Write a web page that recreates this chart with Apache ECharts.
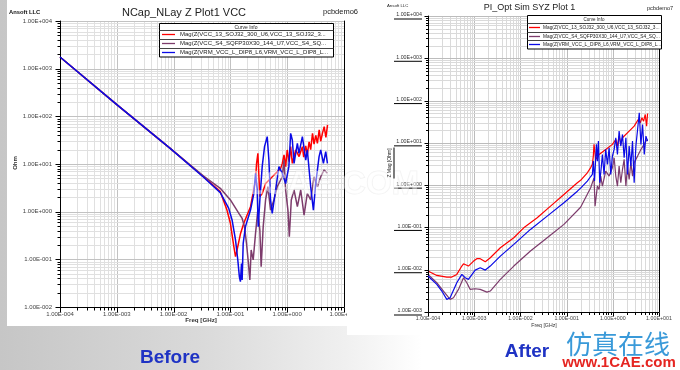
<!DOCTYPE html>
<html><head><meta charset="utf-8">
<script src="https://cdn.jsdelivr.net/npm/echarts@6/dist/echarts.min.js"></script>
<style>html,body{margin:0;padding:0;background:#fff}#c{width:680px;height:370px}</style>
</head><body><div id="c"></div>
<script>
const FONT = '"Liberation Sans", Arial, sans-serif';

// ---------- tick labels ----------
const leftXTickLabels = ['1.00E-004','1.00E-003','1.00E-002','1.00E-001','1.00E+000','1.00E+001'];
const leftYTickLabels = ['1.00E-002','1.00E-001','1.00E+000','1.00E+001','1.00E+002','1.00E+003','1.00E+004'];
const rightXTickLabels = ['1.00E-004','1.00E-003','1.00E-002','1.00E-001','1.00E+000','1.00E+001'];
const rightYTickLabels = ['1.00E-003','1.00E-002','1.00E-001','1.00E+000','1.00E+001','1.00E+002','1.00E+003','1.00E+004'];

const curveNames = [
  'Mag(Z(VCC_13_SOJ32_300_U6,VCC_13_SOJ32_3...',
  'Mag(Z(VCC_S4_SQFP30X30_144_U7,VCC_S4_SQ...',
  'Mag(Z(VRM_VCC_L_DIP8_L6,VRM_VCC_L_DIP8_L...'
];

// ---------- left chart (Before) : Freq [GHz] vs Ohm ----------
const leftRedFreq = [0.0001,0.001,0.0087,0.0337,0.0664,0.087,0.100,0.115,0.123,0.131,0.151,0.172,0.226,0.277,0.289,0.305,0.318,0.331,0.363,0.417,0.585,0.767,0.820,0.879,0.940,1.00,1.08,1.15,1.23,1.41,1.62,1.85,1.95,2.12,2.26,2.43,2.59,2.79,2.97,3.19,3.40,3.66,3.89,4.19,4.48,4.80,5.13];
const leftRedZ    = [1760,176,21.3,5.4,2.63,1.08,0.57,0.185,0.114,0.157,0.35,0.57,1.27,4.6,10.3,16.7,5.4,2.07,2.4,3.9,5.9,8.1,10.3,15.5,8.8,19.7,11.2,23.1,10.3,19.7,14.3,23.1,14,24,16,29,20,44,26,40,27,52,30,45,61,36,66];

const leftPurpleFreq = [0.0001,0.001,0.0087,0.0337,0.0664,0.100,0.141,0.161,0.177,0.192,0.205,0.220,0.232,0.252,0.277,0.304,0.330,0.348,0.378,0.416,0.457,0.509,0.584,0.668,0.819,0.877,0.938,1.03,1.09,1.18,1.32,1.51,1.73,1.98,2.26,2.59,2.97,3.40,3.89,4.47,5.11];
const leftPurpleZ    = [1760,176,21.3,5.6,3.09,1.76,0.92,0.72,0.485,0.217,0.097,0.037,0.157,0.097,0.35,1.08,0.41,0.070,0.485,1.76,3.35,1.08,1.76,3.35,5.4,12.1,2.85,1.08,0.30,1.76,2.85,1.27,2.85,0.85,2.43,1.76,5.4,3.35,5.4,7.5,6.4];

const leftBlueFreq = [0.0001,0.001,0.0087,0.0337,0.0664,0.0935,0.107,0.123,0.135,0.144,0.150,0.157,0.161,0.168,0.184,0.226,0.259,0.277,0.296,0.309,0.330,0.363,0.399,0.445,0.476,0.509,0.545,0.625,0.715,0.819,0.938,1.07,1.15,1.23,1.32,1.51,1.61,1.85,2.12,2.26,2.59,2.89,3.18,3.64,3.89,4.34,4.77,5.11];
const leftBlueZ    = [1760,176,21.3,5.26,2.51,1.17,0.67,0.255,0.097,0.043,0.034,0.082,0.037,0.217,0.485,1.08,2.43,6.4,2.85,0.485,1.76,8.8,23.1,37.5,12.1,1.76,0.92,2.85,8.8,6.4,3.9,8.8,44,31.9,10.3,27.2,16.7,37.5,12.1,19.7,3.35,1.08,3.9,14.3,19.7,10.3,18.2,10.3];

// ---------- right chart (After) : Freq [GHz] vs Z Mag [Ohm] ----------
const rightRedFreq = [0.0001,0.000155,0.000255,0.000327,0.00042,0.00054,0.000587,0.00075,0.00097,0.00114,0.00135,0.00174,0.00189,0.00223,0.00368,0.0072,0.0118,0.0231,0.0449,0.0875,0.171,0.201,0.281,0.332,0.361,0.379,0.392,0.413,0.427,0.505,0.703,0.98,1.16,1.26,1.37,1.49,1.62,2.26,2.9,3.55,3.92,4.27,4.64,5.04,5.39,5.66];
const rightRedZ    = [0.0093,0.00733,0.0067,0.0067,0.00774,0.0122,0.0138,0.0122,0.016,0.0182,0.0182,0.0154,0.016,0.0192,0.033,0.057,0.098,0.169,0.319,0.60,1.14,1.3,1.96,2.6,3.1,4.86,9.2,8.4,4.06,5.3,7.0,9.2,12.0,8.4,14.4,9.2,13.2,18.9,24.9,35.7,29.8,39.2,32.6,46.9,24.9,49.5];

const rightPurpleFreq = [0.0001,0.000155,0.000216,0.000301,0.000356,0.000457,0.000587,0.000693,0.00082,0.00105,0.00135,0.00189,0.00223,0.00368,0.0072,0.0165,0.038,0.0875,0.201,0.332,0.392,0.413,0.434,0.464,0.505,0.548,0.595,0.703,0.832,0.98,1.07,1.16,1.26,1.37,1.49,1.62,1.76,1.92,2.08,2.26,2.46,2.67,2.9,3.44,4.06,4.80,5.21,5.66];
const rightPurpleZ    = [0.00774,0.00492,0.00313,0.00199,0.00217,0.00342,0.00646,0.00492,0.00342,0.00355,0.00342,0.00296,0.00313,0.0059,0.0122,0.0276,0.057,0.118,0.30,0.87,1.49,0.319,0.292,0.95,0.79,1.64,0.95,2.15,1.64,2.58,4.43,1.64,0.95,2.82,1.14,2.35,4.06,0.95,2.82,1.36,3.38,1.64,3.38,4.86,7.0,9.2,11.0,12.0];

const rightBlueFreq = [0.0001,0.000155,0.000199,0.000255,0.000301,0.00042,0.00054,0.000638,0.00075,0.00105,0.00135,0.00174,0.00223,0.00368,0.0072,0.0165,0.038,0.0875,0.171,0.201,0.281,0.332,0.361,0.379,0.402,0.442,0.464,0.488,0.521,0.566,0.595,0.647,0.703,0.765,0.832,0.904,0.98,1.07,1.16,1.26,1.37,1.49,1.62,1.76,1.92,2.08,2.26,2.46,2.67,2.9,3.16,3.44,3.74,4.06,4.41,4.80,5.21,5.66];
const rightBlueZ    = [0.00708,0.0045,0.00313,0.00199,0.00217,0.00492,0.00774,0.00646,0.0059,0.0098,0.0111,0.0098,0.0122,0.021,0.0397,0.0897,0.185,0.383,0.72,0.85,1.25,1.6,1.79,3.7,1.25,9.2,3.7,11.0,1.14,2.82,5.3,1.79,7.0,3.08,7.6,1.79,4.86,7.0,13.2,5.3,18.9,8.4,15.8,4.43,13.2,1.79,8.4,2.82,11.0,1.14,8.4,20.7,51.4,9.2,27.2,5.3,14.4,11.0];

const RED = '#ff0000', PURPLE = '#7d3c6c', BLUE = '#0a0ae6';

// ---------- helpers ----------
function labelFmt(labels, e0) {
  return function (v) { const e = Math.round(Math.log10(v)); return labels[e - e0] || ''; };
}
function lineSeries(name, fr, vals, color, xi, yi, w, z) {
  return { type: 'line', name: name, xAxisIndex: xi, yAxisIndex: yi,
    data: fr.map(function (f, i) { return [f, vals[i]]; }),
    showSymbol: false, symbol: 'none', smooth: false, silent: true, animation: false,
    lineStyle: { color: color, width: w }, itemStyle: { color: color }, z: z };
}
function gridLines(xi, yi, xe, ye, st) {
  const xd = [], yd = [];
  const yMin = Math.pow(10, ye[0]), yMax = Math.pow(10, ye[1]);
  const xMin = Math.pow(10, xe[0]), xMax = Math.pow(10, xe[1]);
  for (let e = xe[0]; e <= xe[1]; e++) for (let m = 1; m <= 9; m++) {
    if (e === xe[1] && m > 1) break;
    xd.push([m * Math.pow(10, e), yMin, m === 1 ? 1 : 0, (e === xe[0] && m === 1) || e === xe[1] ? 1 : 0]);
  }
  for (let e = ye[0]; e <= ye[1]; e++) for (let m = 1; m <= 9; m++) {
    if (e === ye[1] && m > 1) break;
    yd.push([xMin, m * Math.pow(10, e), m === 1 ? 1 : 0, (e === ye[0] && m === 1) ? 1 : 0]);
  }
  return [
    { type: 'custom', xAxisIndex: xi, yAxisIndex: yi, data: xd, encode: { x: 0, y: 1 }, z: 1, silent: true, animation: false, clip: false,
      renderItem: function (p, api) {
        const v = api.value(0), major = api.value(2) === 1, edge = api.value(3) === 1;
        const a = api.coord([v, yMin]), b = api.coord([v, yMax]);
        const x = Math.round(a[0]) + 0.5, y0 = Math.round(a[1]) + 0.5;
        const ch = [];
        if (!edge) ch.push({ type: 'line', shape: { x1: x, y1: y0, x2: x, y2: Math.round(b[1]) }, style: { stroke: major ? st.major : st.minor, lineWidth: 1 } });
        ch.push({ type: 'line', shape: { x1: x, y1: y0, x2: x, y2: y0 + (major ? st.majLen : st.minLen) }, style: { stroke: '#000', lineWidth: 1 } });
        return { type: 'group', children: ch };
      } },
    { type: 'custom', xAxisIndex: xi, yAxisIndex: yi, data: yd, encode: { x: 0, y: 1 }, z: 1, silent: true, animation: false, clip: false,
      renderItem: function (p, api) {
        const v = api.value(1), major = api.value(2) === 1, edge = api.value(3) === 1;
        const a = api.coord([xMin, v]), b = api.coord([xMax, v]);
        const y = Math.round(a[1]) + 0.5, x0 = Math.round(a[0]) + 0.5;
        const ch = [];
        if (!edge) ch.push({ type: 'line', shape: { x1: x0, y1: y, x2: Math.round(b[0]), y2: y }, style: { stroke: major ? st.major : st.minor, lineWidth: 1 } });
        ch.push({ type: 'line', shape: { x1: x0, y1: y, x2: x0 - (major ? st.majLen : st.minLen), y2: y }, style: { stroke: '#000', lineWidth: 1 } });
        return { type: 'group', children: ch };
      } }
  ];
}
function legendElems(L, colors) {
  const out = [];
  const h = L.headerH + L.rowH * 3;
  out.push({ type: 'rect', z: 100, shape: { x: L.x + 0.5, y: L.y + 0.5, width: L.w, height: h }, style: { fill: '#fff', stroke: '#000', lineWidth: 1 } });
  out.push({ type: 'text', z: 101, x: L.x + L.w / 2, y: L.y + L.headerH / 2 + 1, style: { text: 'Curve Info', fontSize: L.hfs, fontFamily: FONT, fill: '#222', align: 'center', verticalAlign: 'middle' } });
  for (let i = 0; i < 3; i++) {
    const top = L.y + L.headerH + i * L.rowH;
    out.push({ type: 'line', z: 101, shape: { x1: L.x + 0.5, y1: Math.round(top) + 0.5, x2: L.x + L.w + 0.5, y2: Math.round(top) + 0.5 }, style: { stroke: '#444', lineWidth: 1 } });
    const cy = Math.round(top + L.rowH / 2) + 0.5;
    out.push({ type: 'line', z: 101, shape: { x1: L.x + L.sx1, y1: cy, x2: L.x + L.sx2, y2: cy }, style: { stroke: colors[i], lineWidth: 1.3 } });
    out.push({ type: 'text', z: 101, x: L.x + L.tx, y: cy, style: { text: curveNames[i], fontSize: L.fs, fontFamily: FONT, fill: '#222', align: 'left', verticalAlign: 'middle' } });
  }
  return out;
}
function txt(x, y, text, size, opts) {
  opts = opts || {};
  return { type: 'text', x: x, y: y, rotation: opts.rot || 0, z: opts.z || 100,
    style: { text: text, fontSize: size, fontFamily: opts.family || FONT, fontWeight: opts.weight || 'normal',
      fill: opts.color || '#222', align: opts.align || 'center', verticalAlign: 'middle',
      stroke: opts.stroke, lineWidth: opts.lw || 0, rich: opts.rich } };
}

const axisLineBlack = { show: true, onZero: false, lineStyle: { color: '#000', width: 1 } };
function logX(gi, labels, e0, fs, margin) {
  return { gridIndex: gi, type: 'log', logBase: 10, min: 1e-4, max: 10, z: 5,
    axisLine: axisLineBlack, axisTick: { show: false }, splitLine: { show: false },
    axisLabel: { show: true, margin: margin, fontSize: fs, fontFamily: FONT, color: '#444', formatter: labelFmt(labels, e0) } };
}

const chart = echarts.init(document.getElementById('c'), null, { renderer: 'canvas' });
const option = {
  animation: false,
  backgroundColor: 'transparent',
  textStyle: { fontFamily: FONT },
  grid: [
    { left: 60, top: 21, width: 284, height: 286, containLabel: false, outerBoundsMode: 'none' },
    { left: 428, top: 16, width: 231, height: 296, containLabel: false, outerBoundsMode: 'none' }
  ],
  xAxis: [ logX(0, leftXTickLabels, -4, 6, 4), logX(1, rightXTickLabels, -4, 5.3, 4) ],
  yAxis: [
    { gridIndex: 0, type: 'log', logBase: 10, min: 1e-2, max: 1e4, position: 'left', z: 5,
      axisLine: axisLineBlack, axisTick: { show: false }, splitLine: { show: false },
      axisLabel: { margin: 8, fontSize: 6, fontFamily: FONT, color: '#444', formatter: labelFmt(leftYTickLabels, -2) } },
    { gridIndex: 0, type: 'log', logBase: 10, min: 1e-2, max: 1e4, position: 'right', z: 5,
      axisLine: axisLineBlack, axisTick: { show: false }, splitLine: { show: false }, axisLabel: { show: false } },
    { gridIndex: 1, type: 'log', logBase: 10, min: 1e-3, max: 1e4, position: 'left', z: 5,
      axisLine: axisLineBlack, axisTick: { show: false }, splitLine: { show: false },
      axisLabel: { margin: 6, formatter: function (v) { return '{t|' + labelFmt(rightYTickLabels, -3)(v) + '}\n{u|}'; },
        rich: { t: { fontSize: 5.3, fontFamily: FONT, color: '#333', lineHeight: 6, align: 'right' },
                u: { width: 28, height: 1, backgroundColor: '#000', lineHeight: 2, align: 'right' } } } },
    { gridIndex: 1, type: 'log', logBase: 10, min: 1e-3, max: 1e4, position: 'right', z: 5,
      axisLine: axisLineBlack, axisTick: { show: false }, splitLine: { show: false }, axisLabel: { show: false } }
  ],
  series: [].concat(
    gridLines(0, 0, [-4, 1], [-2, 4], { major: '#c2c2c2', minor: '#e0e0e0', majLen: 5, minLen: 3 }),
    gridLines(1, 2, [-4, 1], [-3, 4], { major: '#bcbcbc', minor: '#dadada', majLen: 4, minLen: 2.5 }),
    [
      lineSeries(curveNames[0], leftRedFreq, leftRedZ, RED, 0, 0, 1.5, 3),
      lineSeries(curveNames[1], leftPurpleFreq, leftPurpleZ, PURPLE, 0, 0, 1.5, 4),
      lineSeries(curveNames[2], leftBlueFreq, leftBlueZ, BLUE, 0, 0, 1.5, 5),
      lineSeries(curveNames[0], rightRedFreq, rightRedZ, RED, 1, 2, 1.2, 3),
      lineSeries(curveNames[1], rightPurpleFreq, rightPurpleZ, PURPLE, 1, 2, 1.2, 4),
      lineSeries(curveNames[2], rightBlueFreq, rightBlueZ, BLUE, 1, 2, 1.2, 5)
    ]
  ),
  graphic: { elements: [
    // page background and the two white panels
    { type: 'rect', z: -20, shape: { x: 0, y: 0, width: 680, height: 370 },
      style: { fill: { type: 'linear', x: 0, y: 0, x2: 1, y2: 0, colorStops: [
        { offset: 0, color: '#c6c6c6' }, { offset: 0.3, color: '#dadada' }, { offset: 0.5, color: '#efefef' }, { offset: 0.62, color: '#ffffff' }, { offset: 1, color: '#ffffff' } ] } } },
    { type: 'rect', z: -19, shape: { x: 7, y: 0, width: 340, height: 326 }, style: { fill: '#ffffff' } },
    { type: 'rect', z: -19, shape: { x: 347, y: 0, width: 333, height: 335 }, style: { fill: '#ffffff' } },
    // right panel overlaps the end of the left x labels
    { type: 'rect', z: 50, shape: { x: 347, y: 308, width: 40, height: 16 }, style: { fill: '#ffffff' } },

    // left chart texts
    txt(9, 12, 'Ansoft LLC', 5.8, { align: 'left', weight: 'bold', color: '#111' }),
    txt(184, 13, 'NCap_NLay Z Plot1 VCC', 11, { color: '#222' }),
    txt(323, 12, 'pcbdemo6', 7.5, { align: 'left', color: '#222' }),
    txt(201, 320, 'Freq [GHz]', 6.2, { weight: 'bold', color: '#333' }),
    txt(15, 163, 'Ohm', 6, { weight: 'bold', rot: Math.PI / 2, color: '#333' }),

    // right chart texts
    txt(387, 6, 'Ansoft LLC', 4.3, { align: 'left', color: '#222' }),
    txt(529.5, 8, 'PI_Opt Sim SYZ Plot 1', 9, { color: '#222' }),
    txt(647, 8, 'pcbdemo7', 5.6, { align: 'left', color: '#222' }),
    txt(544, 326, 'Freq [GHz]', 5.2, { color: '#333' }),
    txt(391, 163, '{t|Z Mag [Ohm]}\n{u|}', 5, { rot: Math.PI / 2,
      rich: { t: { fontSize: 5, fontFamily: FONT, fill: '#222', lineHeight: 6 }, u: { width: 31, height: 1, backgroundColor: '#000', lineHeight: 2 } } }),

    // faint watermark
    txt(332, 185, '1CAE.COM', 33, { weight: 'bold', color: 'rgba(255,255,255,0.45)', stroke: 'rgba(190,190,190,0.22)', lw: 1, z: 60 }),

    // bottom captions
    txt(170, 358, 'Before', 19, { weight: 'bold', color: '#1f33c4' }),
    txt(527, 352, 'After', 19, { weight: 'bold', color: '#1f33c4' }),
    txt(618, 344, '仿真在线', 26, { family: '"Noto Sans CJK SC", sans-serif', color: '#3a9ad9' }),
    txt(619, 363, 'www.1CAE.com', 15, { weight: 'bold', color: '#e52521' })
  ].concat(
    legendElems({ x: 159, y: 23, w: 174, headerH: 6.5, rowH: 9, hfs: 5, fs: 6, sx1: 3, sx2: 16, tx: 21 }, [RED, PURPLE, BLUE]),
    legendElems({ x: 527, y: 15, w: 134, headerH: 8, rowH: 8.5, hfs: 4.5, fs: 4.8, sx1: 2, sx2: 13, tx: 16 }, [RED, PURPLE, BLUE])
  ) }
};
chart.setOption(option);
</script></body></html>
